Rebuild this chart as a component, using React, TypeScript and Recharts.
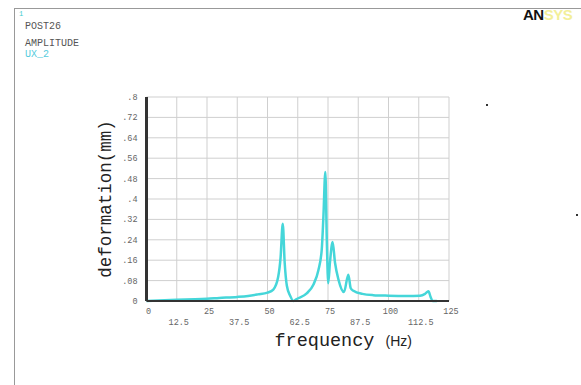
import React from "react";
import { LineChart, Line, XAxis, YAxis, CartesianGrid, Label } from "recharts";

// frequency (Hz) and response amplitude (mm)
const freqs = [
  0, 5, 12.5, 20, 25, 30, 37.5, 42, 46, 50, 52.4, 54.4, 55.4, 56.3, 57.1, 58,
  59.4, 60.7, 62.1, 66.2, 69, 71, 72.4, 73.1, 73.9, 74.5, 75.1, 75.8, 76.9,
  77.9, 79.3, 81.6, 83.4, 84.4, 85.5, 89.2, 93.7, 100, 107.5, 113, 115.1,
  116.5, 117.4, 118.2, 120,
];
const uxValues = [
  0, 0.002, 0.005, 0.007, 0.009, 0.012, 0.016, 0.02, 0.026, 0.033, 0.045,
  0.094, 0.17, 0.303, 0.15, 0.06, 0.02, 0, 0.008, 0.03, 0.065, 0.12, 0.2,
  0.33, 0.506, 0.24, 0.07, 0.15, 0.231, 0.15, 0.085, 0.035, 0.103, 0.05,
  0.04, 0.028, 0.023, 0.021, 0.02, 0.021, 0.028, 0.038, 0.016, 0, 0,
];

const xTicks = [0, 12.5, 25, 37.5, 50, 62.5, 75, 87.5, 100, 112.5, 125];
const yTicks = [0, 0.08, 0.16, 0.24, 0.32, 0.4, 0.48, 0.56, 0.64, 0.72, 0.8];
const yTickLabels = ["0", ".08", ".16", ".24", ".32", ".4", ".48", ".56", ".64", ".72", ".8"];

const data = freqs.map((f, i) => ({ f, ux: uxValues[i] }));

const mono = "'Liberation Mono', 'DejaVu Sans Mono', monospace";

const XTick = (props: any) => {
  const { x, y, payload, index } = props;
  const lower = index % 2 === 1;
  return (
    <text
      x={x + 2}
      y={y + (lower ? 16 : 5)}
      textAnchor="middle"
      fontFamily={mono}
      fontSize={8.5}
      fill="#666"
    >
      {payload.value}
    </text>
  );
};

const YTick = (props: any) => {
  const { x, y, index } = props;
  return (
    <text
      x={x - 1}
      y={y + 3}
      textAnchor="end"
      fontFamily={mono}
      fontSize={8.5}
      fill="#666"
    >
      {yTickLabels[index]}
    </text>
  );
};

const XTitle = (props: any) => {
  const { viewBox } = props;
  return (
    <text x={viewBox.x + 128} y={viewBox.y + 45} fill="#222">
      <tspan fontFamily={mono} fontSize={18.5}>
        frequency{" "}
      </tspan>
      <tspan fontFamily="'Liberation Sans', Arial, sans-serif" fontSize={14}>
        (Hz)
      </tspan>
    </text>
  );
};

const YTitle = (props: any) => {
  const { viewBox } = props;
  const cx = viewBox.x + viewBox.width - 41;
  const cy = 199;
  return (
    <text
      x={cx}
      y={cy}
      transform={`rotate(-90 ${cx} ${cy})`}
      textAnchor="middle"
      dominantBaseline="central"
      fontFamily={mono}
      fontSize={17.5}
      fill="#222"
    >
      deformation(mm)
    </text>
  );
};

const smallText: React.CSSProperties = {
  position: "absolute",
  fontFamily: mono,
  fontSize: 10,
  lineHeight: "10px",
  color: "#555",
};

export default function App() {
  return (
    <div
      style={{
        position: "absolute",
        left: 0,
        top: 0,
        width: 581,
        height: 385,
        background: "#fff",
        overflow: "hidden",
      }}
    >
      <div
        style={{
          position: "absolute",
          left: 14,
          top: 8,
          width: 580,
          height: 390,
          borderLeft: "1.5px solid #999",
          borderTop: "1.5px solid #999",
        }}
      />
      <div style={{ ...smallText, left: 19, top: 9, fontSize: 7, color: "#4cc" }}>1</div>
      <div style={{ ...smallText, left: 25, top: 22 }}>POST26</div>
      <div style={{ ...smallText, left: 25, top: 39 }}>AMPLITUDE</div>
      <div style={{ ...smallText, left: 25, top: 50, color: "#5cd" }}>UX_2</div>
      <div
        style={{
          position: "absolute",
          left: 523,
          top: 6,
          fontFamily: "'Liberation Sans', Arial, sans-serif",
          fontWeight: 900,
          fontSize: 15,
          letterSpacing: -0.5,
        }}
      >
        <span style={{ color: "#111" }}>AN</span>
        <span style={{ color: "#f3ef9a" }}>SYS</span>
      </div>
      <div style={{ position: "absolute", left: 486, top: 104, width: 2, height: 2, background: "#333" }} />
      <div style={{ position: "absolute", left: 576, top: 214, width: 2, height: 2, background: "#333" }} />

      <LineChart
        width={581}
        height={385}
        data={data}
        margin={{ top: 97, right: 132, bottom: 0, left: 0 }}
        style={{ position: "absolute", left: 0, top: 0 }}
      >
        <CartesianGrid stroke="#cfcfcf" strokeWidth={1} />
        <XAxis
          dataKey="f"
          type="number"
          domain={[0, 125]}
          ticks={xTicks}
          interval={0}
          tick={<XTick />}
          tickLine={false}
          axisLine={{ stroke: "#333", strokeWidth: 2 }}
          height={84}
        >
          <Label content={<XTitle />} />
        </XAxis>
        <YAxis
          type="number"
          domain={[0, 0.8]}
          ticks={yTicks}
          interval={0}
          tick={<YTick />}
          tickLine={false}
          axisLine={{ stroke: "#333", strokeWidth: 3 }}
          width={146.5}
        >
          <Label content={<YTitle />} />
        </YAxis>
        <Line
          dataKey="ux"
          type="monotone"
          stroke="#45d6d9"
          strokeWidth={2.5}
          dot={false}
          isAnimationActive={false}
        />
      </LineChart>
    </div>
  );
}
